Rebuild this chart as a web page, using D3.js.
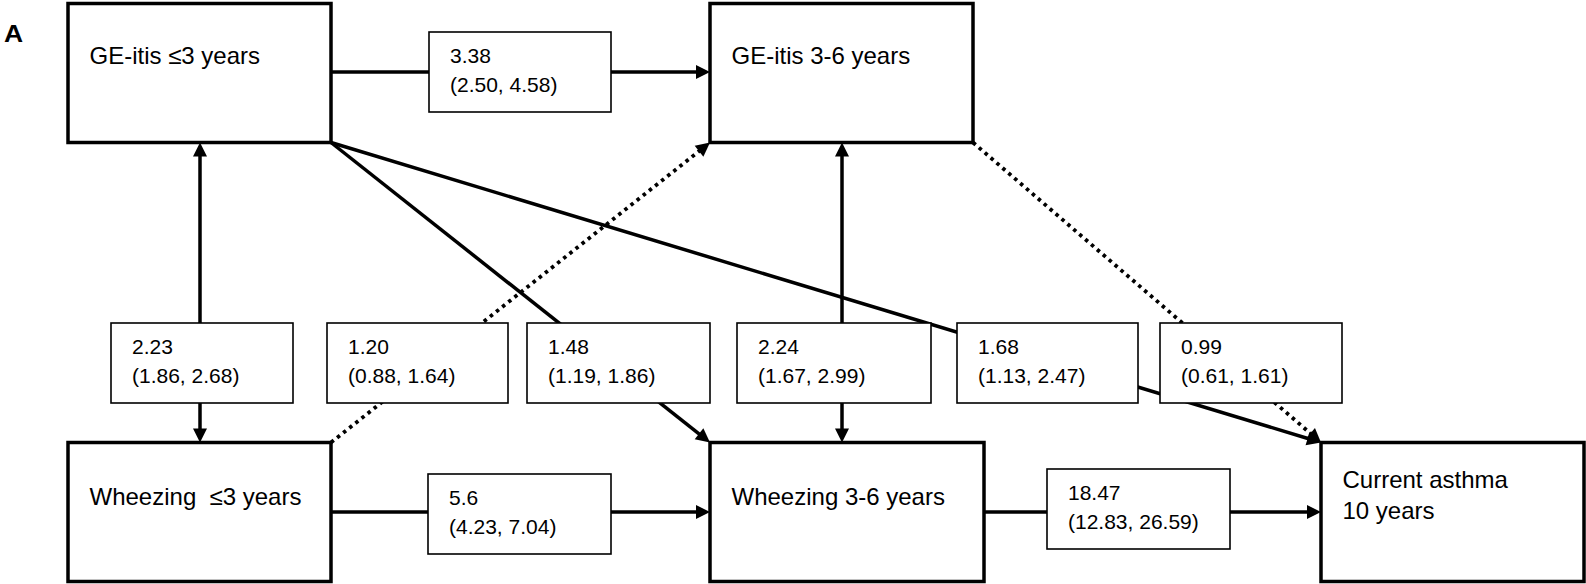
<!DOCTYPE html>
<html>
<head>
<meta charset="utf-8">
<script src="https://cdn.jsdelivr.net/npm/d3@7"></script>
<style>
  body { margin: 0; background: #fff; }
  svg { display: block; }
  text { font-family: "Liberation Sans", Arial, sans-serif; fill: #000; white-space: pre; }
</style>
</head>
<body>
<svg id="chart" width="1586" height="584"></svg>
<script>
// Nodes of the path model
const nodeIds = ["ge3", "ge36", "wh3", "wh36", "ca"];
const nodeLines = [
    ["GE-itis ≤3 years"],
    ["GE-itis 3-6 years"],
    ["Wheezing  ≤3 years"],
    ["Wheezing 3-6 years"],
    ["Current asthma", "10 years"]
];

// Paths: estimate with 95% CI
const edgeFrom = ["ge3", "ge3", "wh3", "ge3", "ge36", "ge3", "ge36", "wh3", "wh36"];
const edgeTo = ["ge36", "wh3", "ge36", "wh36", "wh36", "ca", "ca", "wh36", "ca"];
const edgeBoth = [false, true, false, false, true, false, false, false, false];
const estimates = ["3.38", "2.23", "1.20", "1.48", "2.24", "1.68", "0.99", "5.6", "18.47"];
const ciLow = [2.50, 1.86, 0.88, 1.19, 1.67, 1.13, 0.61, 4.23, 12.83];
const ciHigh = [4.58, 2.68, 1.64, 1.86, 2.99, 2.47, 1.61, 7.04, 26.59];

// Layout (box grid), kept apart from the data
const width = 1586, height = 584;
const colX = d3.scaleOrdinal().domain(nodeIds).range([68, 710, 68, 710, 1321]);
const rowY = d3.scaleOrdinal().domain(nodeIds).range([3.5, 3.5, 442.5, 442.5, 442.5]);
const boxW = d3.scaleOrdinal().domain(nodeIds).range([263, 263, 263, 274, 263]);
const boxH = 139;

// where each edge leaves / enters its box
const anchorFrom = ["r", "b", "tr", "br", "b", "br", "br", "r", "r"];
const anchorTo = ["l", "t", "bl", "tl", "t", "tl", "tl", "l", "l"];

// estimate label boxes (top-left corner, width)
const labelX = [429, 111, 327, 527, 737, 957, 1160, 428, 1047];
const labelY = [32, 323, 323, 323, 323, 323, 323, 474, 469];
const labelW = [182, 182, 181, 183, 194, 181, 182, 183, 183];
const labelH = 80;

const fmt = d3.format(".2f");

const svg = d3.select("#chart");

function anchor(id, a, vx) {
    const x = colX(id), y = rowY(id), w = boxW(id), h = boxH;
    switch (a) {
        case "r": return [x + w, y + h / 2 + (id.startsWith("ge") ? -1 : 0)];
        case "l": return [x, y + h / 2 + (id.startsWith("ge") ? -1 : 0)];
        case "t": return [vx, y];
        case "b": return [vx, y + h];
        case "tr": return [x + w, y];
        case "tl": return [x, y];
        case "br": return [x + w, y + h];
        case "bl": return [x, y + h];
    }
}

// vertical edges use the column centre of the upper box
function verticalX(i) {
    return Math.round(colX(edgeFrom[i]) + boxW(edgeFrom[i]) / 2);
}

const arrowLen = 14, arrowHalf = 7;

function arrowHead(tip, from) {
    const a = Math.atan2(tip[1] - from[1], tip[0] - from[0]);
    const bx = tip[0] - arrowLen * Math.cos(a), by = tip[1] - arrowLen * Math.sin(a);
    const px = -Math.sin(a) * arrowHalf, py = Math.cos(a) * arrowHalf;
    return d3.line()([tip, [bx + px, by + py], [bx - px, by - py]]) + "Z";
}

function shorten(p, q, d) {
    const len = Math.hypot(q[0] - p[0], q[1] - p[1]);
    return [q[0] - (q[0] - p[0]) / len * d, q[1] - (q[1] - p[1]) / len * d];
}

const lineG = svg.append("g");
const labelG = svg.append("g");
const nodeG = svg.append("g");

// Edges (dotted when the CI includes 1)
edgeFrom.forEach((src, i) => {
    const vx = verticalX(i);
    const p0 = anchor(src, anchorFrom[i], vx);
    const p1 = anchor(edgeTo[i], anchorTo[i], vx);
    const dotted = ciLow[i] < 1 && ciHigh[i] > 1;

    const end = shorten(p0, p1, arrowLen - 2);
    const start = edgeBoth[i] ? shorten(p1, p0, arrowLen - 2) : p0;

    lineG.append("line")
        .attr("x1", start[0]).attr("y1", start[1])
        .attr("x2", end[0]).attr("y2", end[1])
        .attr("stroke", "#000")
        .attr("stroke-width", dotted ? 3.8 : 3.5)
        .attr("stroke-dasharray", dotted ? "3.5,4.3" : null);

    lineG.append("path").attr("d", arrowHead(p1, p0)).attr("fill", "#000");
    if (edgeBoth[i]) {
        lineG.append("path").attr("d", arrowHead(p0, p1)).attr("fill", "#000");
    }
});

// Estimate label boxes
estimates.forEach((est, i) => {
    const g = labelG.append("g").attr("transform", "translate(" + labelX[i] + "," + labelY[i] + ")");
    g.append("rect")
        .attr("width", labelW[i]).attr("height", labelH)
        .attr("fill", "#fff").attr("stroke", "#000").attr("stroke-width", 1.6);
    g.append("text").attr("x", 21).attr("y", 31).attr("font-size", 21).text(est);
    g.append("text").attr("x", 21).attr("y", 60).attr("font-size", 21)
        .text("(" + fmt(ciLow[i]) + ", " + fmt(ciHigh[i]) + ")");
});

// Node boxes
nodeIds.forEach((id, i) => {
    const g = nodeG.append("g").attr("transform", "translate(" + colX(id) + "," + rowY(id) + ")");
    g.append("rect")
        .attr("width", boxW(id)).attr("height", boxH)
        .attr("fill", "none").attr("stroke", "#000").attr("stroke-width", 3.5);
    const lines = nodeLines[i];
    const firstBase = lines.length > 1 ? 45.5 : (id.startsWith("ge") ? 60.5 : 62.5);
    lines.forEach((t, k) => {
        g.append("text")
            .attr("x", 21.5).attr("y", firstBase + k * 31)
            .attr("font-size", 24)
            .text(t);
    });
});

// Panel letter
svg.append("text")
    .attr("transform", "translate(4,42) scale(1.15,1)")
    .attr("font-size", 23).attr("font-weight", "bold")
    .text("A");
</script>
</body>
</html>
